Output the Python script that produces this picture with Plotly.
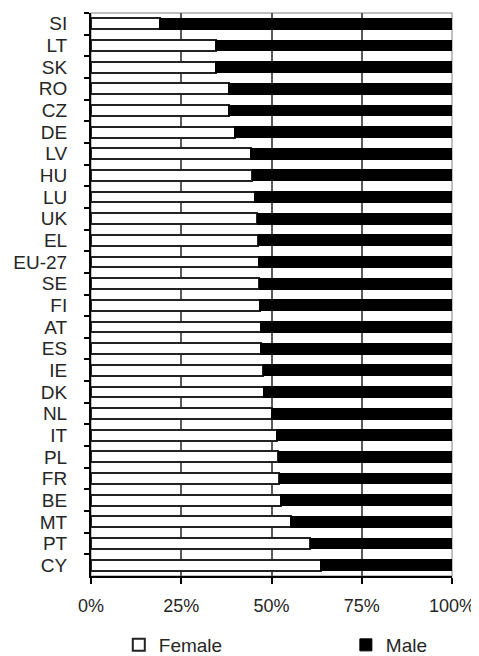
import plotly.graph_objects as go

countries = ["SI", "LT", "SK", "RO", "CZ", "DE", "LV", "HU", "LU", "UK", "EL", "EU-27", "SE",
             "FI", "AT", "ES", "IE", "DK", "NL", "IT", "PL", "FR", "BE", "MT", "PT", "CY"]
female = [19.1, 34.5, 34.5, 38.1, 38.2, 39.8, 44.2, 44.7, 45.4, 46.0, 46.3, 46.5, 46.6,
          46.7, 47.0, 47.0, 47.7, 47.8, 50.0, 51.4, 51.9, 52.2, 52.6, 55.3, 60.7, 63.7]
male = [round(100 - f, 1) for f in female]
x_ticks = [0, 25, 50, 75, 100]
x_tick_labels = ["0%", "25%", "50%", "75%", "100%"]

FONT = "Liberation Sans, Arial, sans-serif"
TXT = "#262626"

fig = go.Figure()
fig.add_trace(go.Bar(
    name="Female", y=countries, x=female, orientation="h", width=0.5,
    marker=dict(color="white", line=dict(color="#222222", width=2)),
    legend="legend",
))
fig.add_trace(go.Bar(
    name="Male", y=countries, x=male, orientation="h", width=0.5,
    marker=dict(color="black", line=dict(color="black", width=1)),
    legend="legend2",
))

leg_common = dict(orientation="h", yanchor="middle", y=-0.1226, xanchor="left",
                  font=dict(family=FONT, size=19, color=TXT), bgcolor="rgba(0,0,0,0)")

# page body adds an 8px offset, so the figure is 8px smaller and margins shifted
fig.update_layout(
    width=471, height=648,
    margin=dict(l=83, r=27, t=5, b=80, autoexpand=False),
    barmode="stack",
    plot_bgcolor="white", paper_bgcolor="white",
    font=dict(family=FONT, size=19, color=TXT),
    showlegend=True,
    legend=dict(x=0.077, **leg_common),
    legend2=dict(x=0.706, **leg_common),
    xaxis=dict(range=[0, 100], tickvals=x_ticks, ticktext=x_tick_labels,
               showgrid=True, gridcolor="#5a5a5a", gridwidth=1.5,
               showline=True, linecolor="black", linewidth=2,
               ticks="outside", ticklen=6, tickwidth=1.5, tickcolor="black",
               ticklabelstandoff=6, zeroline=False, automargin=False,
               tickfont=dict(family=FONT, size=18, color=TXT)),
    yaxis=dict(categoryorder="array", categoryarray=countries, autorange="reversed",
               tickmode="linear", tick0=0, dtick=1,
               showline=True, linecolor="black", linewidth=2,
               ticks="outside", ticklen=5, tickwidth=1.5, tickcolor="black",
               tickson="boundaries", showgrid=False, ticklabelstandoff=18,
               automargin=False,
               tickfont=dict(family=FONT, size=19, color=TXT)),
    shapes=[dict(type="rect", xref="paper", yref="paper", x0=0, x1=1, y0=0, y1=1,
                 line=dict(color="#aaaaaa", width=1.5), layer="below")],
)

fig.write_html("out.html")
